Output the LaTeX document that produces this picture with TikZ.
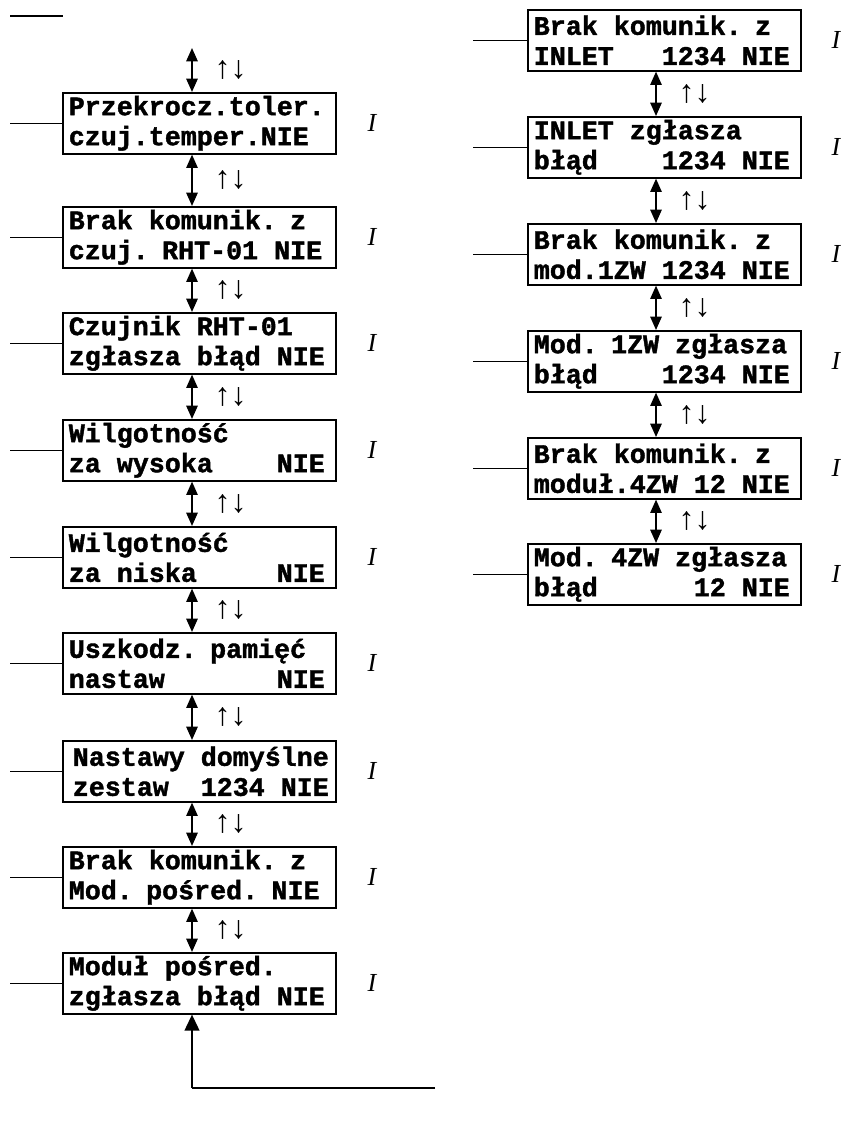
\documentclass[tikz,border=0pt]{standalone}
\usepackage{fontspec}
\setmainfont{Liberation Serif}
\setmonofont{Liberation Mono}[BoldFont={Liberation Mono Bold},BoldFeatures={FakeBold=1.5}]
\usetikzlibrary{arrows.meta}
\tikzset{
	lcd/.style={draw=black,line width=1.2pt,rectangle,anchor=north west,align=left,text width=195.75pt,minimum height=45.75pt,inner xsep=4.5pt,inner ysep=2pt,font=\fontsize{20}{22.5}\selectfont\ttfamily\bfseries,execute at begin node={\spaceskip=12pt\relax}},
	nav/.style={line width=1.3pt,{Triangle[length=10pt,width=8.5pt]}-{Triangle[length=10pt,width=8.5pt]}},
	ret/.style={line width=1.5pt,-{Triangle[length=12pt,width=11pt]}},
	keys/.style={midway,anchor=west,xshift=13pt,font=\fontsize{24}{24}\selectfont},
	tag/.style={font=\fontsize{19.5}{20}\selectfont\itshape},
	feed/.style={line width=1pt}
}
\begin{document}
\begin{tikzpicture}[x=0.75pt,y=-0.75pt]
		\useasboundingbox (0,0) rectangle (841,1124);
		\coordinate (lx) at (10,0);
		\coordinate (rx) at (473,0);
		\coordinate (lax) at (192,0);
		\coordinate (rax) at (656,0);
		\coordinate (ltag) at (372,0);
		\coordinate (rtag) at (836,0);
		
		\node[lcd] (L1) at (62,92) {Przekrocz.toler.\\czuj.temper.NIE};
		\node[lcd] (L2) at (62,206) {Brak komunik. z\\czuj. RHT-01 NIE};
		\node[lcd] (L3) at (62,312) {Czujnik RHT-01\\zgłasza błąd NIE};
		\node[lcd] (L4) at (62,419) {Wilgotność\\za wysoka~~~~NIE};
		\node[lcd] (L5) at (62,526) {Wilgotność\\za niska~~~~~NIE};
		\node[lcd] (L6) at (62,632) {Uszkodz. pamięć\\nastaw~~~~~~~NIE};
		\node[lcd] (L7) at (62,740) {\hspace*{3pt}Nastawy domyślne\\\hspace*{3pt}zestaw~~1234 NIE};
		\node[lcd] (L8) at (62,846) {Brak komunik. z\\Mod. pośred. NIE};
		\node[lcd] (L9) at (62,952) {Moduł pośred.\\zgłasza błąd NIE};
		
		\node[lcd] (R1) at (527,9) {Brak komunik. z\\INLET~~~1234 NIE};
		\node[lcd] (R2) at (527,116) {INLET zgłasza\\błąd~~~~1234 NIE};
		\node[lcd] (R3) at (527,223) {Brak komunik. z\\mod.1ZW 1234 NIE};
		\node[lcd] (R4) at (527,330) {Mod. 1ZW zgłasza\\błąd~~~~1234 NIE};
		\node[lcd] (R5) at (527,437) {Brak komunik. z\\moduł.4ZW 12 NIE};
		\node[lcd] (R6) at (527,543) {Mod. 4ZW zgłasza\\błąd~~~~~~12 NIE};
		
		\coordinate (top1) at (10,16);
		\coordinate (top2) at (63,16);
		\draw[feed] (top1) -- (top2);
		\coordinate (entry) at (192,48);
		\draw[nav] (entry) -- node[keys] (k0) {↑↓} (L1.north -| lax);
		
		\draw[nav] (L1.south -| lax) -- node[keys] (k1) {↑↓} (L2.north -| lax);
		\draw[nav] (L2.south -| lax) -- node[keys] (k2) {↑↓} (L3.north -| lax);
		\draw[nav] (L3.south -| lax) -- node[keys] (k3) {↑↓} (L4.north -| lax);
		\draw[nav] (L4.south -| lax) -- node[keys] (k4) {↑↓} (L5.north -| lax);
		\draw[nav] (L5.south -| lax) -- node[keys] (k5) {↑↓} (L6.north -| lax);
		\draw[nav] (L6.south -| lax) -- node[keys] (k6) {↑↓} (L7.north -| lax);
		\draw[nav] (L7.south -| lax) -- node[keys] (k7) {↑↓} (L8.north -| lax);
		\draw[nav] (L8.south -| lax) -- node[keys] (k8) {↑↓} (L9.north -| lax);
		
		\draw[nav] (R1.south -| rax) -- node[keys] (q1) {↑↓} (R2.north -| rax);
		\draw[nav] (R2.south -| rax) -- node[keys] (q2) {↑↓} (R3.north -| rax);
		\draw[nav] (R3.south -| rax) -- node[keys] (q3) {↑↓} (R4.north -| rax);
		\draw[nav] (R4.south -| rax) -- node[keys] (q4) {↑↓} (R5.north -| rax);
		\draw[nav] (R5.south -| rax) -- node[keys] (q5) {↑↓} (R6.north -| rax);
		
		\draw[feed] (L1.west) -- (L1.west -| lx);
		\draw[feed] (L2.west) -- (L2.west -| lx);
		\draw[feed] (L3.west) -- (L3.west -| lx);
		\draw[feed] (L4.west) -- (L4.west -| lx);
		\draw[feed] (L5.west) -- (L5.west -| lx);
		\draw[feed] (L6.west) -- (L6.west -| lx);
		\draw[feed] (L7.west) -- (L7.west -| lx);
		\draw[feed] (L8.west) -- (L8.west -| lx);
		\draw[feed] (L9.west) -- (L9.west -| lx);
		\draw[feed] (R1.west) -- (R1.west -| rx);
		\draw[feed] (R2.west) -- (R2.west -| rx);
		\draw[feed] (R3.west) -- (R3.west -| rx);
		\draw[feed] (R4.west) -- (R4.west -| rx);
		\draw[feed] (R5.west) -- (R5.west -| rx);
		\draw[feed] (R6.west) -- (R6.west -| rx);
		
		\node[tag] (t1) at (L1.center -| ltag) {I};
		\node[tag] (t2) at (L2.center -| ltag) {I};
		\node[tag] (t3) at (L3.center -| ltag) {I};
		\node[tag] (t4) at (L4.center -| ltag) {I};
		\node[tag] (t5) at (L5.center -| ltag) {I};
		\node[tag] (t6) at (L6.center -| ltag) {I};
		\node[tag] (t7) at (L7.center -| ltag) {I};
		\node[tag] (t8) at (L8.center -| ltag) {I};
		\node[tag] (t9) at (L9.center -| ltag) {I};
		\node[tag] (u1) at (R1.center -| rtag) {I};
		\node[tag] (u2) at (R2.center -| rtag) {I};
		\node[tag] (u3) at (R3.center -| rtag) {I};
		\node[tag] (u4) at (R4.center -| rtag) {I};
		\node[tag] (u5) at (R5.center -| rtag) {I};
		\node[tag] (u6) at (R6.center -| rtag) {I};
		
		\coordinate (back) at (435,1088);
		\draw[feed] (back) -- (back -| lax);
		\draw[ret] (back -| lax) -- (L9.south -| lax);
	\end{tikzpicture}
\end{document}
